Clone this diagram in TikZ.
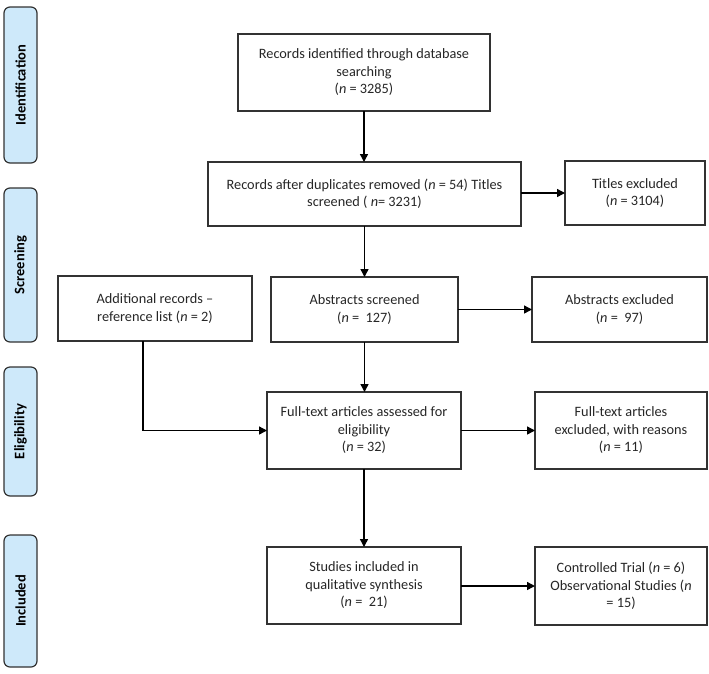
\documentclass[tikz,border=0pt]{standalone}
\usepackage{fontspec}
\setmainfont{Carlito}
\usetikzlibrary{arrows.meta}
\definecolor{lblfill}{RGB}{206,233,250}
\definecolor{edge}{RGB}{50,50,50}
\tikzset{
  box/.style={draw=edge, line width=1.2pt, align=center, inner sep=0pt, outer sep=0pt,
    font=\fontsize{14.3}{17.5}\selectfont, text=black!85},
  stage/.style={draw=edge, fill=lblfill, line width=1.2pt, rounded corners=6pt, inner sep=0pt,
    outer sep=0pt, minimum height=33pt, rotate=90, font=\fontsize{14.5}{16}\selectfont\bfseries},
  arr/.style={line width=1.4pt, draw=black, -{Triangle[length=8pt,width=8pt]}},
  ln/.style={line width=1.4pt, draw=black}
}
\begin{document}
\begin{tikzpicture}[x=1pt,y=-1pt]
\useasboundingbox (0,0) rectangle (709,673);
% stage labels
\node[stage, minimum width=156pt] (lid) at (20.5,85) {Identification};
\node[stage, minimum width=154pt] (lsc) at (20.5,265) {Screening};
\node[stage, minimum width=129pt] (lel) at (20.5,431.5) {Eligibility};
\node[stage, minimum width=132pt] (lin) at (20.5,601) {Included};
% boxes
\node[box, minimum width=252pt, minimum height=77pt] (b1) at (364,72.5)
  {Records identified through database\\searching\\(\textit{n} = 3285)};
\node[box, minimum width=313pt, minimum height=64pt] (b2) at (364.5,194)
  {Records after duplicates removed (\textit{n} = 54) Titles\\screened ( \textit{n}= 3231)};
\node[box, minimum width=140pt, minimum height=64pt] (b2x) at (635,193)
  {Titles excluded\\(\textit{n} = 3104)};
\node[box, minimum width=194pt, minimum height=65pt] (add) at (155,308.5)
  {Additional records --\\reference list (\textit{n} = 2)};
\node[box, minimum width=187pt, minimum height=65pt] (b3) at (364.5,309.5)
  {Abstracts screened\\(\textit{n} =\ \ 127)};
\node[box, minimum width=175pt, minimum height=65pt] (b3x) at (619.5,309.5)
  {Abstracts excluded\\(\textit{n} =\ \ 97)};
\node[box, minimum width=194pt, minimum height=77pt] (b4) at (364,430.5)
  {Full-text articles assessed for\\eligibility\\(\textit{n} = 32)};
\node[box, minimum width=172pt, minimum height=77pt] (b4x) at (621,430.5)
  {Full-text articles\\excluded, with reasons\\(\textit{n} = 11)};
\node[box, minimum width=194pt, minimum height=77pt] (b5) at (364,585.5)
  {Studies included in\\qualitative synthesis\\(\textit{n} =\ \ 21)};
\node[box, minimum width=172pt, minimum height=78pt] (b5x) at (621,586)
  {Controlled Trial (\textit{n} = 6)\\Observational Studies (\textit{n}\\= 15)};
% connectors
\draw[arr] (b1.south) -- (b1.south |- b2.north);
\draw[arr] (b2.east |- b2x.west) -- (b2x.west);
\draw[arr] (b2.south) -- (b2.south |- b3.north);
\draw[arr] (b3.east) -- (b3x.west);
\draw[arr] (b3.south) -- (b3.south |- b4.north);
\coordinate (ac) at (143,430.5);
\draw[ln] (add.south -| ac) -- (ac);
\draw[arr] (ac) -- (b4.west);
\draw[arr] (b4.east) -- (b4x.west);
\draw[arr] (b4.south) -- (b4.south |- b5.north);
\draw[arr] (b5.east |- b5x.west) -- (b5x.west);
\end{tikzpicture}
\end{document}
